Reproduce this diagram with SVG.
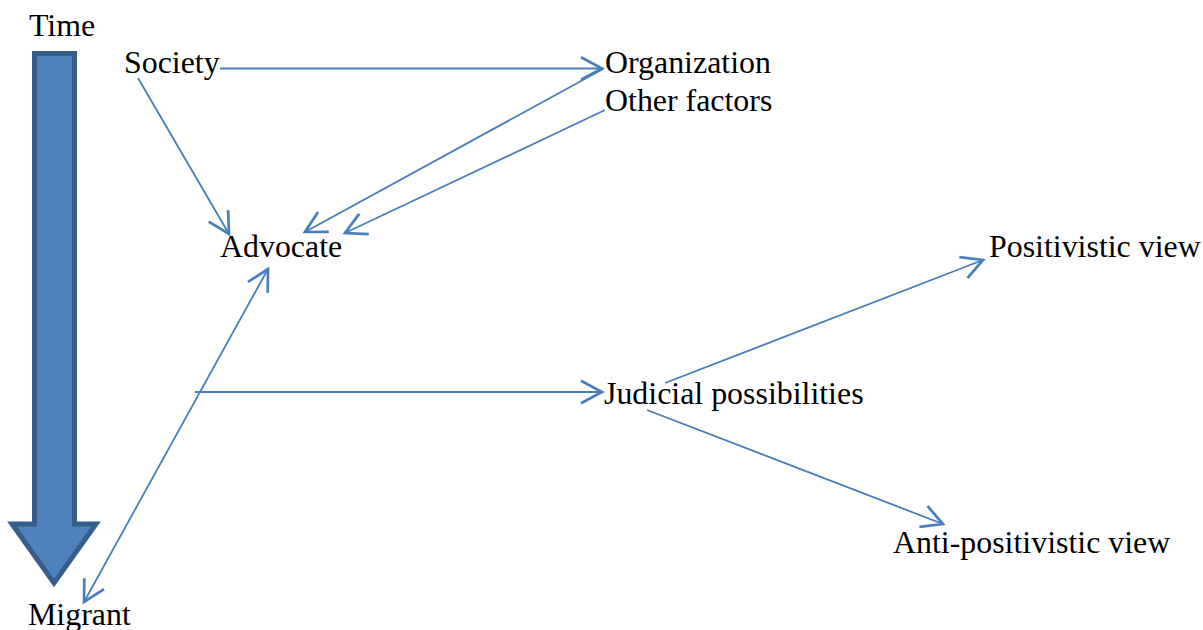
<svg xmlns="http://www.w3.org/2000/svg" width="1203" height="630" viewBox="0 0 1203 630">
<style>
text{font-family:"Liberation Serif","Times New Roman",serif;font-size:31.9px;fill:#000}
.c{fill:none;stroke:#4A7EBB;stroke-width:1.8}
</style>
<defs>
<marker id="ah" markerUnits="userSpaceOnUse" markerWidth="30" markerHeight="30" refX="0" refY="0" viewBox="-16 -10 20 20" orient="auto-start-reverse" overflow="visible">
<path d="M-14,-7.5 L0,0 L-14,7.5" fill="none" stroke="#4A7EBB" stroke-width="1.8"/>
</marker>
</defs>
<rect width="1203" height="630" fill="#fff"/>
<g id="time-arrow">
<path d="M34.5,53.5 H74.5 V524 H96 L54,583 L12,524 H34.5 Z" fill="#4F81BD" stroke="#385D8A" stroke-width="5" stroke-linejoin="miter"/>
</g>
<g id="time"><text x="29" y="36">Time</text></g>
<g id="society"><text x="124" y="73">Society</text></g>
<g id="organization"><text x="605" y="73">Organization</text></g>
<g id="other-factors"><text x="605" y="111">Other factors</text></g>
<g id="advocate"><text x="220" y="257">Advocate</text></g>
<g id="positivistic"><text x="989" y="257">Positivistic view</text></g>
<g id="judicial"><text x="604" y="404">Judicial possibilities</text></g>
<g id="anti-positivistic"><text x="893" y="553">Anti-positivistic view</text></g>
<g id="migrant"><text x="28" y="625">Migrant</text></g>
<g id="connectors">
<line class="c" x1="220" y1="68.5" x2="602" y2="68.5" marker-end="url(#ah)"/>
<line class="c" x1="138" y1="78" x2="229" y2="234" marker-end="url(#ah)"/>
<line class="c" x1="603" y1="69" x2="305" y2="232" marker-end="url(#ah)"/>
<line class="c" x1="605" y1="110" x2="345" y2="233" marker-end="url(#ah)"/>
<line class="c" x1="84" y1="602" x2="268" y2="269" marker-start="url(#ah)" marker-end="url(#ah)"/>
<line class="c" x1="195" y1="392" x2="602" y2="392" marker-end="url(#ah)"/>
<line class="c" x1="665" y1="383" x2="983" y2="260" marker-end="url(#ah)"/>
<line class="c" x1="647" y1="410" x2="943" y2="524" marker-end="url(#ah)"/>
</g>
</svg>
